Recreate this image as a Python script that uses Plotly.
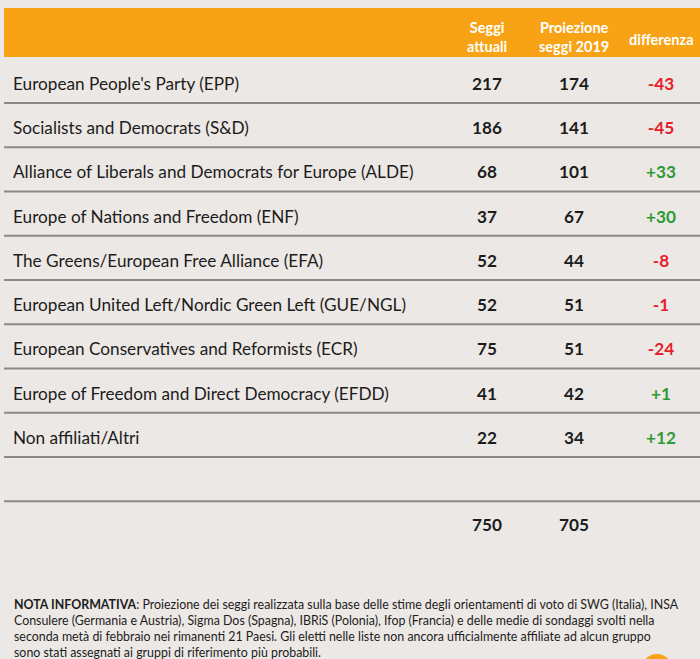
import plotly.graph_objects as go

# ---- data ----
groups = [
    "European People's Party (EPP)",
    "Socialists and Democrats (S&D)",
    "Alliance of Liberals and Democrats for Europe (ALDE)",
    "Europe of Nations and Freedom (ENF)",
    "The Greens/European Free Alliance (EFA)",
    "European United Left/Nordic Green Left (GUE/NGL)",
    "European Conservatives and Reformists (ECR)",
    "Europe of Freedom and Direct Democracy (EFDD)",
    "Non affiliati/Altri",
]
seggi_attuali = [217, 186, 68, 37, 52, 52, 75, 41, 22]
proiezione_2019 = [174, 141, 101, 67, 44, 51, 51, 42, 34]
differenza = [-43, -45, 33, 30, -8, -1, -24, 1, 12]
totale_attuali = 750
totale_proiezione = 705
col_headers = ["Seggi<br>attuali", "Proiezione<br>seggi 2019", "differenza"]
nota = ("<b>NOTA INFORMATIVA</b>: Proiezione dei seggi realizzata sulla base delle stime degli orientamenti di voto di SWG (Italia), INSA<br>"
        "Consulere (Germania e Austria), Sigma Dos (Spagna), IBRiS (Polonia), Ifop (Francia) e delle medie di sondaggi svolti nella<br>"
        "seconda metà di febbraio nei rimanenti 21 Paesi. Gli eletti nelle liste non ancora ufficialmente affiliate ad alcun gruppo<br>"
        "sono stati assegnati ai gruppi di riferimento più probabili.")

# ---- styling ----
BG = "#ECE8E5"
ORANGE = "#F8A215"
LINE = "#8C8A88"
RED = "#E5202A"
GREEN = "#2E9A35"
TXT = "#1C1C1C"
FONT = "Lato, 'Open Sans', sans-serif"

ROW0 = 85.5
STEP = 44.25
X_LABEL = 13
X_COLS = [487, 574, 661]
FS = 17.2

row_y = [ROW0 + STEP * i for i in range(len(groups))]

fig = go.Figure()

fig.add_trace(go.Scatter(
    x=[X_LABEL] * len(groups), y=row_y, mode="text", text=groups,
    textposition="middle right",
    textfont=dict(family=FONT, size=FS, color=TXT), hoverinfo="skip"))
fig.add_trace(go.Scatter(
    x=[X_COLS[0]] * len(groups), y=row_y, mode="text",
    text=[f"<b>{v}</b>" for v in seggi_attuali], textposition="middle center",
    textfont=dict(family=FONT, size=FS, color=TXT), hoverinfo="skip"))
fig.add_trace(go.Scatter(
    x=[X_COLS[1]] * len(groups), y=row_y, mode="text",
    text=[f"<b>{v}</b>" for v in proiezione_2019], textposition="middle center",
    textfont=dict(family=FONT, size=FS, color=TXT), hoverinfo="skip"))
fig.add_trace(go.Scatter(
    x=[X_COLS[2]] * len(groups), y=row_y, mode="text",
    text=[f"<b>{v:+d}</b>" for v in differenza], textposition="middle center",
    textfont=dict(family=FONT, size=FS, color=[GREEN if v > 0 else RED for v in differenza]),
    hoverinfo="skip"))
y_tot = ROW0 + STEP * (len(groups) + 1) - 1.5
fig.add_trace(go.Scatter(
    x=X_COLS[:2], y=[y_tot, y_tot], mode="text",
    text=[f"<b>{totale_attuali}</b>", f"<b>{totale_proiezione}</b>"],
    textposition="middle center",
    textfont=dict(family=FONT, size=FS, color=TXT), hoverinfo="skip"))

shapes = [
    dict(type="rect", xref="x", yref="y", x0=4, x1=700, y0=8, y1=57,
         fillcolor=ORANGE, line=dict(width=0), layer="below"),
    dict(type="circle", xref="x", yref="y", x0=641, x1=673, y0=654, y1=686,
         fillcolor=ORANGE, line=dict(width=0), layer="below"),
]
for k in range(len(groups) + 1):
    yl = 103 + STEP * k
    shapes.append(dict(type="line", xref="x", yref="y", x0=4, x1=700, y0=yl, y1=yl,
                       line=dict(color=LINE, width=2)))

annotations = []
for xc, h in zip(X_COLS, col_headers):
    annotations.append(dict(x=xc, y=36.5 if "<br>" in h else 39.5, xref="x", yref="y",
                            text=f"<b>{h}</b>", showarrow=False,
                            font=dict(family=FONT, size=14.5, color="white"),
                            xanchor="center", yanchor="middle"))
annotations.append(dict(x=12, y=595, xref="x", yref="y", text=nota, showarrow=False,
                        xanchor="left", yanchor="top", align="left",
                        font=dict(family=FONT, size=12.4, color=TXT)))

fig.update_layout(
    width=700, height=659, margin=dict(l=0, r=0, t=0, b=0),
    paper_bgcolor=BG, plot_bgcolor=BG, showlegend=False,
    xaxis=dict(range=[0, 700], visible=False, fixedrange=True),
    yaxis=dict(range=[659, 0], visible=False, fixedrange=True),
    shapes=shapes, annotations=annotations,
)
fig.write_html("out.html", config={"displayModeBar": False},
               post_script="document.body.style.margin='0';document.body.style.padding='0';document.body.style.overflow='hidden';")
